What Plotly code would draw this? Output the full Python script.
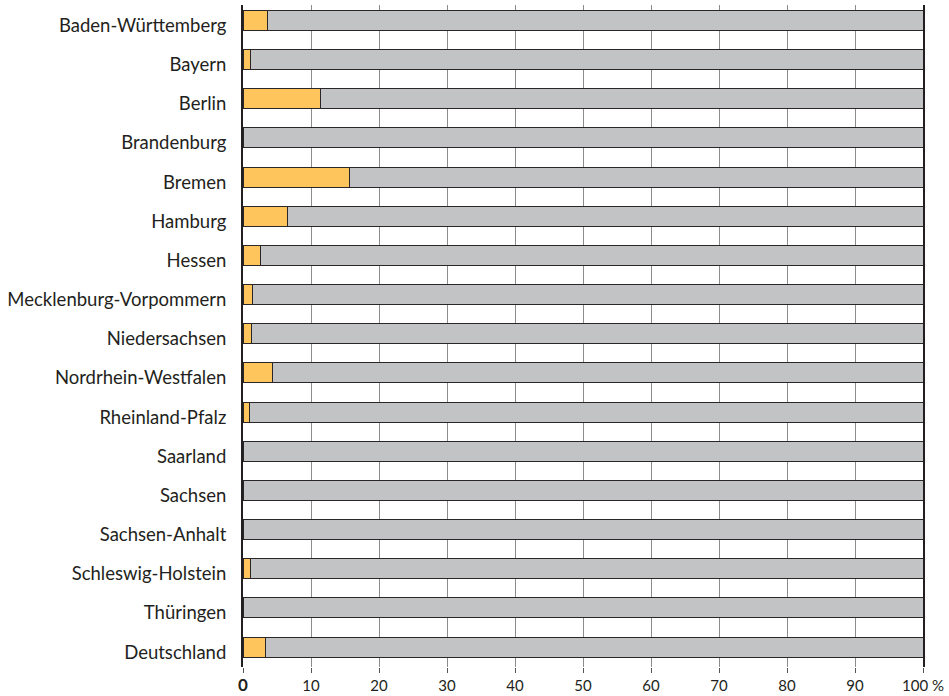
import plotly.graph_objects as go

laender = [
    "Baden-Württemberg", "Bayern", "Berlin", "Brandenburg", "Bremen",
    "Hamburg", "Hessen", "Mecklenburg-Vorpommern", "Niedersachsen",
    "Nordrhein-Westfalen", "Rheinland-Pfalz", "Saarland", "Sachsen",
    "Sachsen-Anhalt", "Schleswig-Holstein", "Thüringen", "Deutschland",
]
anteil = [3.6, 1.1, 11.4, 0.0, 15.7, 6.6, 2.5, 1.4, 1.3, 4.3, 1.0,
          0.0, 0.0, 0.0, 1.1, 0.0, 3.3]
rest = [round(100 - a, 1) for a in anteil]

tick_vals = [0, 10, 20, 30, 40, 50, 60, 70, 80, 90, 100]
tick_text = ['<span style="font-size:17px"><b>0</b></span>', "10", "20", "30",
             "40", "50", "60", "70", "80", "90", "100 %"]

outline = dict(color="#2a2627", width=1)
bar_w = 0.51
bar_off = -0.383  # bars sit slightly above the label baseline

fig = go.Figure()
fig.add_trace(go.Bar(
    y=laender, x=anteil, orientation="h",
    marker=dict(color="#FEC55C", line=outline), width=bar_w, offset=bar_off,
))
fig.add_trace(go.Bar(
    y=laender, x=rest, orientation="h",
    marker=dict(color="#C2C3C5", line=outline), width=bar_w, offset=bar_off,
))

fig.update_layout(
    barmode="stack",
    width=949, height=696,
    margin=dict(l=242.5, r=26, t=5, b=29, autoexpand=False),
    plot_bgcolor="white", paper_bgcolor="white",
    showlegend=False,
    font=dict(family="Lato", size=18.5, color="#231f20"),
)
fig.update_xaxes(
    range=[0, 100], tickvals=tick_vals, ticktext=tick_text,
    showgrid=True, gridcolor="#8c8c8c", gridwidth=1.2,
    ticks="outside", ticklen=5, tickcolor="#555", tickwidth=1.2,
    tickfont=dict(size=15, family="Lato"), ticklabelstandoff=0,
    zeroline=False, showline=False, automargin=False,
)
fig.update_yaxes(
    categoryorder="array", categoryarray=laender,
    range=[16.38, -0.523], autorange=False,
    showline=True, mirror=True, linecolor="#231f20", linewidth=2,
    showgrid=False, ticks="", ticklabelstandoff=11,
    tickfont=dict(size=18.5, family="Lato"), automargin=False,
)

fig.write_html("out.html")
